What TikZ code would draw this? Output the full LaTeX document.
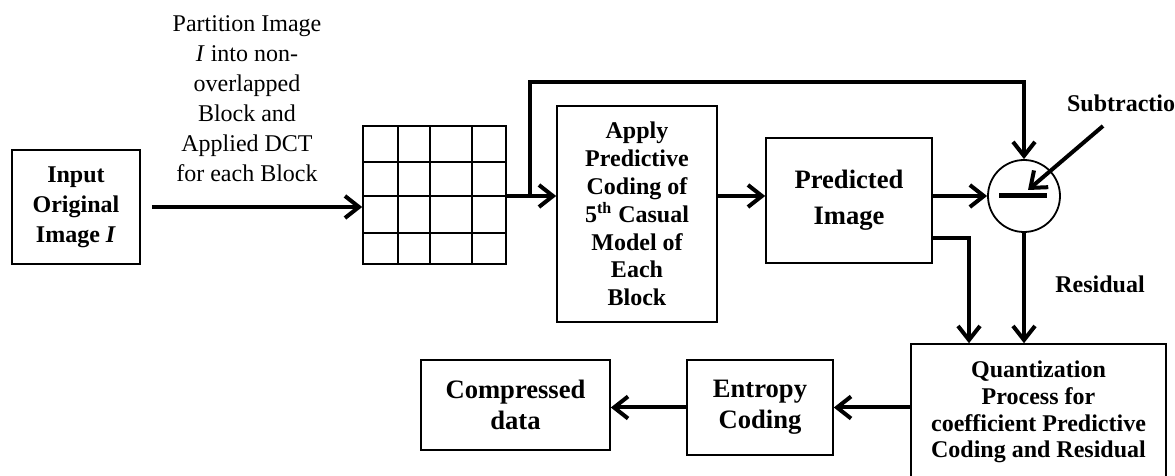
\documentclass[tikz,border=0pt]{standalone}
\usepackage{fontspec}
\setmainfont{Liberation Serif}
\usetikzlibrary{arrows.meta,positioning,calc}

\begin{document}
\begin{tikzpicture}[
        x=0.5pt, y=-0.5pt,
        block/.style={draw, line width=0.8pt, align=center, inner sep=2pt, font=\fontsize{12}{15}\selectfont\bfseries},
        bigblock/.style={block, font=\fontsize{13.3}{15.5}\selectfont\bfseries},
        flow/.style={-{Straight Barb[length=7pt,width=11pt]}, line width=2pt},
        wire/.style={line width=2pt},
        cell/.style={line width=0.8pt},
        tag/.style={align=center, font=\fontsize{12}{15}\selectfont\bfseries},
        note/.style={align=center, font=\fontsize{12}{15}\selectfont}
    ]
    \useasboundingbox (0,0) rectangle (1175,476);

    % top row
    \node (in) [block, minimum width=64pt, minimum height=57pt] at (76,207) {Input\\Original\\Image \textit{I}};
    \node (part) [note] at (247,99) {Partition Image\\\textit{I} into non-\\overlapped\\Block and\\Applied DCT\\for each Block};
    \node (grid) [draw, cell, minimum width=71.5pt, minimum height=69pt, inner sep=0pt] at (434.5,195) {};
    \foreach \gx in {398,430,472}
        \draw[cell] (\gx,126) -- (\gx,264);
    \foreach \gy in {162,196,233}
        \draw[cell] (363,\gy) -- (506,\gy);
    \node (apply) [block, minimum width=80pt, minimum height=108pt, font=\fontsize{12}{13.9}\selectfont\bfseries] at (637,214)
        {Apply\\Predictive\\Coding of\\5\textsuperscript{th} Casual\\Model of\\Each\\Block};
    \node (pred) [bigblock, minimum width=83pt, minimum height=62.5pt, font=\fontsize{13.3}{18}\selectfont\bfseries] at (849,200.5) {Predicted\\Image};
    \node (sub) [draw, circle, line width=0.9pt, minimum size=36pt, inner sep=0pt] at (1024,196) {};
    \draw[line width=2.5pt] ([xshift=-12.5pt]sub.center) -- ([xshift=11.5pt]sub.center);
    \node (subname) [tag, anchor=west] at (1060,103) {Subtractio};
    \node (res) [tag] at (1100,284) {Residual};

    % bottom row
    \node (quant) [block, minimum width=127.5pt, minimum height=68pt, font=\fontsize{12}{13.4}\selectfont\bfseries] at (1038.5,412)
        {Quantization\\Process for\\coefficient Predictive\\Coding and Residual};
    \node (ent) [bigblock, minimum width=73pt, minimum height=47.5pt] at (760,407.5) {Entropy\\Coding};
    \node (comp) [bigblock, minimum width=94.5pt, minimum height=45pt, font=\fontsize{13.3}{15.8}\selectfont\bfseries] at (515.5,405) {Compressed\\data};

    \coordinate (split) at (530,196);
    \coordinate (top) at (1024,82);
    \coordinate (subfrom) at (1103,126);
    \coordinate (subto) at (1028,190);

    \draw[flow] ([xshift=5.5pt]in.east) -- (in.east -| grid.west);
    \draw[flow] (grid.east |- split) -- (apply.west |- split);
    \draw[flow] (split) |- (top) -- (sub.north);
    \draw[flow] (apply.east |- split) -- (pred.west |- split);
    \draw[flow] (pred.east |- sub) -- (sub.west);
    \draw[flow] (subfrom) -- (subto);
    \draw[flow] (sub.south) -- (sub.south |- quant.north);
    \draw[flow] ([yshift=-18.75pt]pred.east) -| ([xshift=-34.75pt]quant.north);
    \draw[flow] (quant.west |- ent.east) -- (ent.east);
    \draw[flow] (ent.west) -- (ent.west -| comp.east);
\end{tikzpicture}
\end{document}
